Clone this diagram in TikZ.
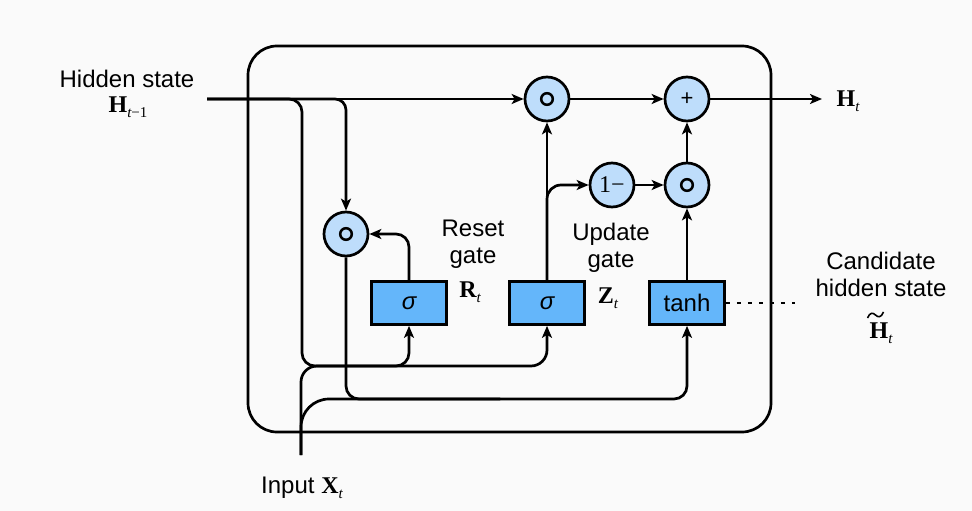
\documentclass[tikz,border=0pt]{standalone}
\usepackage{fontspec}
\setmainfont{Liberation Sans}
\newfontfamily\tms{Liberation Serif}
\usetikzlibrary{arrows.meta}
\definecolor{circfill}{RGB}{190,221,251}
\definecolor{boxfill}{RGB}{100,182,250}
\definecolor{bg}{RGB}{250,250,250}
% bold serif symbol with a low subscript
\newcommand\bvar[2]{{\tms\bfseries #1}\raisebox{-5pt}{\tms\fontsize{15}{15}\selectfont #2}}
\begin{document}
\begin{tikzpicture}[x=1pt,y=-1pt, line width=2.7pt,
  >={Stealth[length=12pt,width=10pt,inset=3pt]},
  every node/.style={font=\fontsize{24}{28}\selectfont},
  opnode/.style={circle, draw, fill=circfill, minimum size=44pt, inner sep=0pt},
  odot/.style={opnode, path picture={
      \draw[line width=2.5pt] (path picture bounding box.center) circle (5.8pt);
      \fill (path picture bounding box.center) circle (2.3pt);}},
  gatebox/.style={draw, fill=boxfill, minimum width=75pt, minimum height=43pt, inner sep=0pt},
  lbl/.style={align=center, inner sep=0pt}]

% canvas
\fill[bg] (0,0) rectangle (972,511);
\useasboundingbox (0,0) rectangle (972,511);

% cell boundary
\draw[rounded corners=29pt] (248,46) rectangle (771,432);

% operators
\node[odot] (m1) at (547,99) {};
\node[opnode, font=\fontsize{22}{24}\selectfont] (pl) at (687,99) {+};
\node[opnode, font=\fontsize{24}{28}\selectfont] (om) at (612,185) {\tms 1−};
\node[odot] (m2) at (687,185) {};
\node[odot] (m0) at (346,234) {};

% gates
\node[gatebox] (r) at (409,303) {\itshape σ};
\node[gatebox] (z) at (547,303) {\itshape σ};
\node[gatebox] (h) at (687,303) {tanh};

% free ends
\coordinate (hin) at (207,99);
\coordinate (xin) at (301,455);
\coordinate (hout) at (822,99);
\coordinate (dotend) at (795,303);

% previous hidden state
\draw[->] (hin) -- (m1);
\draw[->, rounded corners=13pt] (hin) -| (302,366) -| (r.south);
\draw[->, rounded corners=11pt] (hin) -| (m0.north);

% input
\draw[->, rounded corners=16pt] (xin) |- (547,366) -- (z.south);
\draw[rounded corners=28pt] (xin) |- (500,399);
\draw[->, rounded corners=13pt] (500,399) -| (h.south);

% reset path
\draw[->, rounded corners=13pt] (r.north) |- (m0.east);
\draw[rounded corners=13pt] (m0.south) |- (500,399);

% update path
\draw[->] (z.north) -- (m1.south);
\draw[->, rounded corners=14pt] (z.north) |- (om.west);
\draw[->] (om) -- (m2);
\draw[->] (h) -- (m2);
\draw[->] (m2) -- (pl);
\draw[->] (m1) -- (pl);
\draw[->] (pl) -- (hout);

% candidate marker
\draw[line width=2.4pt, dash pattern=on 4pt off 7pt] (h.east) -- (dotend);

% labels
\node[lbl] (lh) at (127,79) {Hidden state};
\node[lbl] (lh1) at (128,107) {\bvar{H}{{\itshape t}−1}};
\node[lbl] (lho) at (848,101) {\bvar{H}{\itshape t}};
\node[lbl] (lr) at (473,244) {Reset\\[-1pt]gate};
\node[lbl] (lrt) at (470,292) {\bvar{R}{\itshape t}};
\node[lbl] (lz) at (611,248) {Update\\[-1pt]gate};
\node[lbl] (lzt) at (608,298) {\bvar{Z}{\itshape t}};
\node[lbl] (lc) at (881,274) {Candidate\\[-1pt]hidden state};
\node[lbl] (lct) at (881,333) {\bvar{H}{\itshape t}};
% tilde accent over the candidate symbol
\draw[line width=1.6pt] (867.5,318) .. controls (870,312) and (873,312.5) .. (875.5,315)
  .. controls (878,317.5) and (881,318) .. (883.5,312);
\node[lbl] (lx) at (302,488) {Input \bvar{X}{\itshape t}};
\end{tikzpicture}
\end{document}
